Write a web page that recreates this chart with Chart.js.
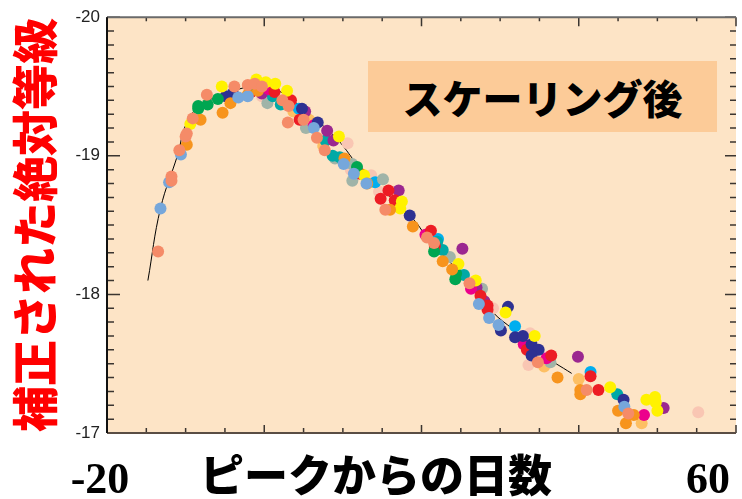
<!DOCTYPE html>
<html lang="ja">
<head>
<meta charset="utf-8">
<title>スケーリング後</title>
<script src="https://cdn.jsdelivr.net/npm/chart.js@4.4.1/dist/chart.umd.min.js"></script>
<style>
  body { margin: 0; background: #fff; }
  #wrap { position: relative; width: 742px; height: 499px; overflow: hidden; }
  #label {
    position: absolute; left: 368px; top: 61px; width: 349px; height: 71px;
    background: #fccb98; display: flex; align-items: center; justify-content: center;
    font: 900 40px "Noto Sans CJK JP"; color: #000;
  }
  .end { position: absolute; top: 453px; width: 80px; text-align: center; line-height: 1;
    font: bold 44px "Liberation Serif"; color: #000; }
  #xTitle { position: absolute; left: 176px; top: 441px; width: 400px; text-align: center;
    line-height: 1; font: 900 44px "Noto Sans CJK JP"; color: #000; }
</style>
</head>
<body>
<div id="wrap">
  <canvas id="lc" width="742" height="499"></canvas>
  <div id="label">スケーリング後</div>
  <div class="end" style="left:60px">-20</div>
  <div class="end" style="left:668px">60</div>
  <div id="xTitle">ピークからの日数</div>
</div>
<script>
// テンプレート曲線（ピークからの日数, 補正された絶対等級）
const lineDays = [-14.8, -13.2, -11.0, -10.0, -8.3, -5.8, -3.3, -0.5, 1.8, 4.3, 6.8, 9.3, 12.2, 14.0, 19.0, 20.6, 24.0, 26.9, 29.1, 31.6, 35.3, 39.1];
const lineMags = [-18.10, -18.62, -19.01, -19.22, -19.36, -19.43, -19.48, -19.51, -19.47, -19.37, -19.25, -19.12, -18.91, -18.81, -18.54, -18.42, -18.21, -18.04, -17.87, -17.75, -17.57, -17.43];

// 超新星ごとの観測点
const salmonDays = [-13.5, -11.8, -11.8, -10.8, -10.0, -9.85, -9.1, -7.3, -3.8, -2.1, -1.2, -0.3, 2.3, 3.1, 3.0, 5.0, 6.7, 7.7, 15.4, 20.7, 21.6, 26.1, 34.8, 41.0, 46.3];
const salmonMags = [-18.31, -18.85, -18.82, -19.04, -19.14, -19.16, -19.27, -19.44, -19.50, -19.51, -19.52, -19.50, -19.40, -19.36, -19.24, -19.26, -19.13, -19.04, -18.61, -18.41, -18.37, -18.08, -17.51, -17.31, -17.14];
const lightBlueDays = [-13.2, -12.1, -10.6, -3.3, -2.1, 6.3, 10.1, 11.4, 13.0, 27.3, 28.6, 29.8, 45.8];
const lightBlueMags = [-18.62, -18.81, -19.01, -19.42, -19.43, -19.20, -18.94, -18.87, -18.80, -17.93, -17.83, -17.78, -17.19];
const orangeDays = [-9.85, -8.1, -5.3, -4.3, -2.1, -0.8, 10.2, 13.1, 16.0, 18.9, 22.7, 23.9, 37.3, 40.2, 40.2, 45.0, 47.0, 46.0];
const orangeMags = [-19.08, -19.26, -19.31, -19.38, -19.44, -19.47, -18.98, -18.80, -18.61, -18.49, -18.24, -18.18, -17.40, -17.31, -17.28, -17.16, -17.13, -17.07];
const yellowDays = [-9.4, -5.4, -1.0, 0.2, 1.4, 2.9, 9.5, 12.7, 17.5, 17.3, 24.7, 26.9, 30.7, 34.4, 44.0, 48.6, 49.7, 49.8, 50.0];
const yellowMags = [-19.23, -19.50, -19.55, -19.53, -19.52, -19.47, -19.14, -18.86, -18.67, -18.62, -18.22, -18.10, -17.87, -17.70, -17.33, -17.24, -17.26, -17.22, -17.16];
const greenDays = [-8.4, -8.4, -7.2, -5.9, -1.5, 11.8, 21.6, 24.4, 24.3];
const greenMags = [-19.34, -19.36, -19.37, -19.41, -19.50, -18.92, -18.31, -18.15, -18.11];
const navyDays = [-4.9, -4.0, 4.8, 6.8, 18.5, 31.0, 30.1, 31.9, 32.9, 34.0, 34.9, 34.0, 45.7];
const navyMags = [-19.43, -19.45, -19.34, -19.24, -18.57, -17.91, -17.74, -17.69, -17.70, -17.64, -17.60, -17.56, -17.24];
const redDays = [-1.7, 1.3, 3.4, 4.5, 12.2, 15.8, 14.8, 16.6, 21.2, 21.7, 27.5, 28.4, 28.4, 33.4, 36.5, 41.5, 42.5];
const redMags = [-19.46, -19.46, -19.40, -19.26, -18.87, -18.75, -18.69, -18.68, -18.46, -18.35, -17.99, -17.92, -17.89, -17.60, -17.56, -17.41, -17.31];
const magentaDays = [0.6, 6.3, 20.5, 26.3, 33.0, 35.9, 48.3];
const magentaMags = [-19.48, -19.22, -18.43, -18.04, -17.64, -17.54, -17.13];
const purpleDays = [-0.3, 5.2, 8.0, 8.8, 17.1, 25.2, 27.0, 28.0, 39.9, 50.8];
const purpleMags = [-19.45, -19.32, -19.18, -19.11, -18.75, -18.33, -18.05, -17.95, -17.55, -17.18];
const tealDays = [1.1, 2.1, 7.8, 8.7, 9.6, 22.7, 22.0, 25.4, 44.9];
const tealMags = [-19.43, -19.37, -19.11, -19.00, -18.99, -18.32, -18.38, -18.14, -17.28];
const grayDays = [0.4, 5.3, 9.0, 11.2, 11.2, 15.1, 23.6, 27.7, 36.4];
const grayMags = [-19.38, -19.20, -18.98, -18.94, -18.82, -18.83, -18.27, -18.04, -17.51];
const cyanDays = [4.4, 14.1, 22.1, 31.9, 41.5];
const cyanMags = [-19.34, -18.81, -18.40, -17.77, -17.44];
const peachDays = [-0.3, 10.6, 11.0, 13.6, 14.6, 29.1, 33.8, 33.6, 55.2];
const peachMags = [-19.43, -19.09, -18.90, -18.86, -18.74, -17.90, -17.72, -17.49, -17.15];
const lightOrangeDays = [3.7, 5.7, 7.5, 35.6, 40.0, 48.0];
const lightOrangeMags = [-19.32, -19.26, -19.07, -17.48, -17.39, -17.07];

const yTicks = [-20, -19, -18, -17];

function pts(days, mags) {
    return days.map((d, i) => ({ x: d, y: mags[i] }));
}

const series = [
    [salmonDays, salmonMags, '#f58b68'],
    [lightBlueDays, lightBlueMags, '#76a7db'],
    [orangeDays, orangeMags, '#f7941d'],
    [yellowDays, yellowMags, '#fff200'],
    [greenDays, greenMags, '#00a651'],
    [navyDays, navyMags, '#2e3192'],
    [redDays, redMags, '#ed1c24'],
    [magentaDays, magentaMags, '#ec008c'],
    [purpleDays, purpleMags, '#9b2790'],
    [tealDays, tealMags, '#00a9a6'],
    [grayDays, grayMags, '#a0b4a8'],
    [cyanDays, cyanMags, '#00aeef'],
    [peachDays, peachMags, '#f9c6b3'],
    [lightOrangeDays, lightOrangeMags, '#fdbf63']
];

const datasets = series.map(s => ({
    type: 'scatter',
    data: pts(s[0], s[1]),
    backgroundColor: s[2],
    borderWidth: 0,
    pointRadius: 6,
    order: 0
}));

datasets.push({
    type: 'line',
    data: pts(lineDays, lineMags),
    borderColor: '#000',
    borderWidth: 1,
    pointRadius: 0,
    tension: 0.4,
    fill: false,
    order: 1
});

// 背景・枠・目盛り
const frame = {
    id: 'frame',
    beforeDraw(chart) {
        const { ctx, chartArea: a } = chart;
        ctx.save();
        ctx.fillStyle = '#fde4c6';
        ctx.fillRect(a.left, a.top, a.right - a.left, a.bottom - a.top);
        ctx.restore();
    },
    afterDraw(chart) {
        const { ctx, chartArea: a, scales: { x, y } } = chart;
        ctx.save();
        ctx.lineWidth = 1.5;
        ctx.strokeStyle = '#3b3530';
        for (let i = 0; i <= 30; i++) {
            const py = y.getPixelForValue(-20 + i / 10);
            const big = i % 10 === 0;
            ctx.beginPath();
            ctx.moveTo(a.left, py); ctx.lineTo(a.left + (big ? 13 : 7), py);
            ctx.moveTo(a.right, py); ctx.lineTo(a.right - (big ? 11 : 6), py);
            ctx.stroke();
        }
        for (let d = -20; d <= 60; d += 5) {
            const px = x.getPixelForValue(d);
            const big = d % 20 === 0;
            ctx.beginPath();
            ctx.moveTo(px, a.bottom); ctx.lineTo(px, a.bottom - (big ? 8 : 5));
            ctx.moveTo(px, a.top); ctx.lineTo(px, a.top + (big ? 9 : 4));
            ctx.stroke();
        }
        ctx.lineWidth = 2;
        ctx.strokeStyle = '#6a6a6a';
        ctx.beginPath(); ctx.moveTo(a.left, a.top); ctx.lineTo(a.right, a.top); ctx.stroke();
        ctx.strokeStyle = '#5a4d44';
        ctx.beginPath(); ctx.moveTo(a.left, a.bottom); ctx.lineTo(a.right, a.bottom); ctx.stroke();
        ctx.strokeStyle = '#111';
        ctx.beginPath(); ctx.moveTo(a.left, a.top); ctx.lineTo(a.left, a.bottom); ctx.stroke();
        ctx.restore();
    }
};

new Chart(document.getElementById('lc'), {
    data: { datasets: datasets },
    options: {
        responsive: false,
        animation: false,
        layout: { padding: { top: 11, right: 0, left: 0, bottom: 0 } },
        plugins: { legend: { display: false }, tooltip: { enabled: false } },
        scales: {
            x: {
                type: 'linear', min: -20, max: 60,
                ticks: { display: false },
                grid: { display: false, drawTicks: false },
                border: { display: false },
                afterFit: s => { s.height = 66; }
            },
            y: {
                type: 'linear', min: -20, max: -17, reverse: true,
                afterBuildTicks: s => { s.ticks = yTicks.map(v => ({ value: v })); },
                ticks: {
                    padding: 7, color: '#222',
                    font: { family: 'Liberation Sans', size: 17 },
                    callback: v => String(v)
                },
                grid: { display: false, drawTicks: false },
                border: { display: false },
                title: {
                    display: true, text: '補正された絶対等級', color: '#ff0000',
                    font: { family: 'Noto Sans CJK JP', size: 46, weight: '900' },
                    padding: { top: 7, bottom: 0 }
                },
                afterFit: s => { s.width = 107; }
            }
        }
    },
    plugins: [frame]
});
</script>
</body>
</html>
